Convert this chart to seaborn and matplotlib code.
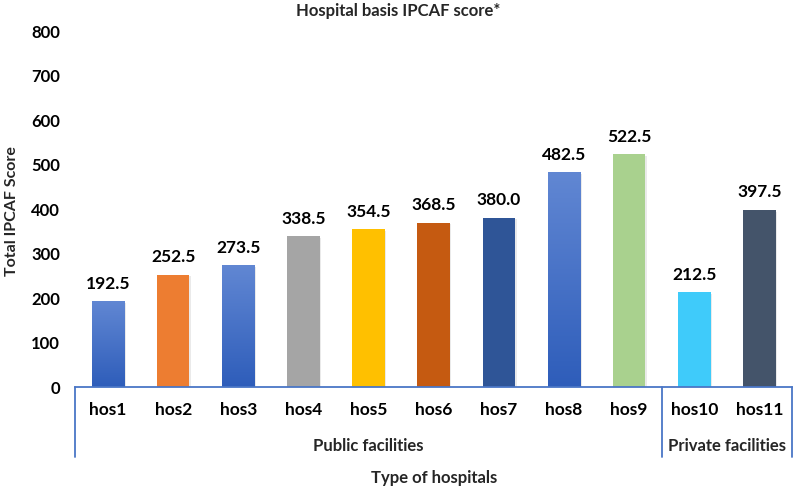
import seaborn as sns
import pandas as pd
import numpy as np
import matplotlib.pyplot as plt
import matplotlib.transforms as mtransforms
import matplotlib.patheffects as pe
from matplotlib.colors import LinearSegmentedColormap

sns.set_theme(style="white")
plt.rcParams['font.family'] = ['Lato', 'DejaVu Sans']

hospitals = ["hos1", "hos2", "hos3", "hos4", "hos5", "hos6",
             "hos7", "hos8", "hos9", "hos10", "hos11"]
scores = [192.5, 252.5, 273.5, 338.5, 354.5, 368.5, 380.0, 482.5, 522.5, 212.5, 397.5]
groups = ["Public facilities"] * 9 + ["Private facilities"] * 2
bar_colors = ["#4472C4", "#ED7D31", "#4472C4", "#A5A5A5", "#FFC000", "#C55A11",
              "#2F5597", "#4472C4", "#A9D18E", "#3FCBFA", "#44546A"]
gradient_bars = [0, 2, 7]  # bars drawn with a light-to-dark blue fill

df = pd.DataFrame({"hospital": hospitals, "score": scores, "group": groups})
W = "bold"

fig = plt.figure(figsize=(7.97, 4.9), dpi=100)
ax = fig.add_axes([0.0947, 0.2102, 0.8990, 0.7265])

sns.barplot(data=df, x="hospital", y="score", hue="hospital",
            palette=bar_colors, width=0.5, legend=False, ax=ax, saturation=1)

grad = np.linspace(0, 1, 256).reshape(-1, 1)
blue_cmap = LinearSegmentedColormap.from_list("bl", ["#2E5DBA", "#6187D3"])
for i, patch in enumerate(ax.patches):
    patch.set_edgecolor("none")
    patch.set_path_effects([pe.SimplePatchShadow(offset=(1, -1), alpha=0.12, shadow_rgbFace="#555555"),
                            pe.Normal()])
    if i in gradient_bars:
        x0, y0 = patch.get_x(), patch.get_y()
        w, h = patch.get_width(), patch.get_height()
        im = ax.imshow(grad, cmap=blue_cmap, aspect="auto", origin="lower",
                       extent=[x0, x0 + w, y0, y0 + h], zorder=patch.get_zorder() + 0.1)
        im.set_clip_path(patch)

for i, v in enumerate(scores):
    ax.annotate(f"{v:.1f}", (i, v), xytext=(0, 7), textcoords="offset points",
                ha="center", va="bottom", fontsize=12.5, fontweight=W, color="black")

ax.set_xlim(-0.5, len(hospitals) - 0.5)
ax.set_ylim(0, 800)
ax.set_yticks(range(0, 801, 100))
ax.tick_params(axis="y", labelsize=12, length=0, pad=11, labelcolor="black")
ax.tick_params(axis="x", labelsize=12.5, length=0, pad=11, labelcolor="black")
for lbl in ax.get_xticklabels() + ax.get_yticklabels():
    lbl.set_fontweight(W)

for s in ["top", "right", "left"]:
    ax.spines[s].set_visible(False)
ax.spines["bottom"].set_color("#4A76C6")
ax.spines["bottom"].set_linewidth(1.3)

# group separators and labels
trans = mtransforms.blended_transform_factory(ax.transData, ax.transAxes)
for xs in [-0.5, 8.5, 10.5]:
    ax.plot([xs, xs], [0, -0.197], transform=trans, color="#4A76C6",
            lw=1.3, clip_on=False)
ax.text(4, -0.166, "Public facilities", transform=trans, ha="center", va="center",
        fontsize=12, fontweight=W)
ax.text(9.5, -0.166, "Private facilities", transform=trans, ha="center", va="center",
        fontsize=12, fontweight=W)

ax.set_xlabel("")
ax.set_ylabel("")
ax.text(0.5, -0.256, "Type of hospitals", transform=ax.transAxes, ha="center",
        va="center", fontsize=12, fontweight=W)
fig.text(12 / 797, 0.57, "Total IPCAF Score", rotation=90, ha="center", va="center",
         fontsize=11.5, fontweight=W)
fig.text(0.5, 0.977, "Hospital basis IPCAF score*", ha="center", va="center",
         fontsize=12, fontweight=W)

fig.savefig("out.png", dpi=100)
